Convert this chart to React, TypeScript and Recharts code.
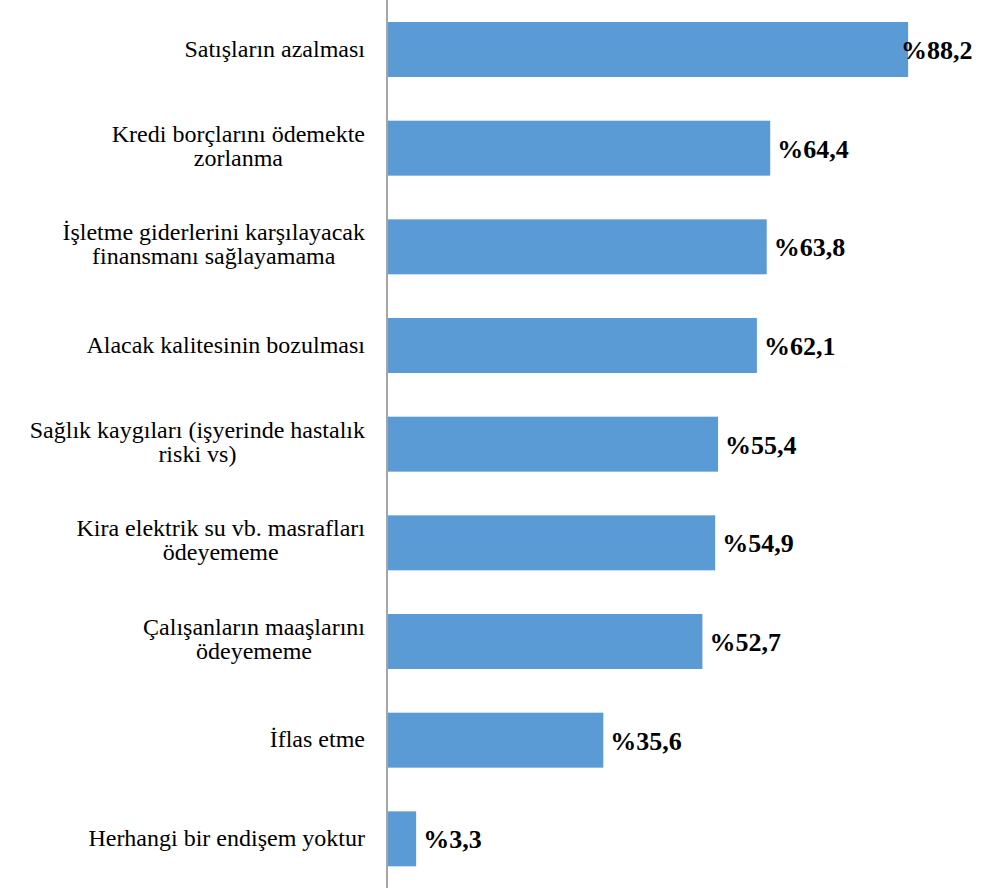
import { BarChart, Bar, XAxis, YAxis, LabelList } from "recharts";

const categories = [
  "Satışların azalması",
  "Kredi borçlarını ödemekte\nzorlanma",
  "İşletme giderlerini karşılayacak\nfinansmanı sağlayamama",
  "Alacak kalitesinin bozulması",
  "Sağlık kaygıları (işyerinde hastalık\nriski vs)",
  "Kira elektrik su vb. masrafları\nödeyememe",
  "Çalışanların maaşlarını\nödeyememe",
  "İflas etme",
  "Herhangi bir endişem yoktur",
];
const values = [88.2, 64.4, 63.8, 62.1, 55.4, 54.9, 52.7, 35.6, 3.3];

const data = categories.map((name, i) => ({ name, value: values[i] }));

const W = 1008;
const H = 888;
const MARGIN = { top: 0, right: 31.5, bottom: 0, left: 0 };
const FAMILY = '"Liberation Serif", "Times New Roman", serif';
const CAT_SIZE = 24;
const VAL_SIZE = 26;
const CAT_FONT = `${CAT_SIZE}px ${FAMILY}`;
const VAL_FONT = `bold ${VAL_SIZE}px ${FAMILY}`;

let ctx: CanvasRenderingContext2D | null = null;
function measure(text: string, font: string) {
  if (!ctx) ctx = document.createElement("canvas").getContext("2d");
  if (!ctx) return text.length * 11;
  ctx.font = font;
  return ctx.measureText(text).width;
}

function CategoryTick(props: any) {
  const { x, y, payload } = props;
  const lines = String(payload.value).split("\n");
  const widest = Math.max(...lines.map((l) => measure(l, CAT_FONT)));
  const cx = x - widest / 2;
  const lh = 24;
  const start = y + (lines.length > 1 ? 5.7 : 7.2) - ((lines.length - 1) * lh) / 2;
  return (
    <text x={cx} y={start} textAnchor="middle" style={{ fontFamily: FAMILY, fontSize: CAT_SIZE }} fill="#000">
      {lines.map((l, i) => (
        <tspan key={i} x={cx} y={start + i * lh}>
          {l}
        </tspan>
      ))}
    </text>
  );
}

function ValueLabel(props: any) {
  const { x, y, width, height, value } = props;
  const text = "%" + Number(value).toFixed(1).replace(".", ",");
  const w = measure(text, VAL_FONT);
  const plotRight = W - MARGIN.right - 4;
  let lx = x + width + 7;
  if (lx + w > plotRight) lx = plotRight - w;
  return (
    <text
      x={lx}
      y={y + height / 2 + 9.5}
      style={{ fontFamily: FAMILY, fontSize: VAL_SIZE, fontWeight: "bold" }}
      fill="#000"
    >
      {text}
    </text>
  );
}

function BarShape(props: any) {
  const { x, y, width, height, fill, background } = props;
  const left = (background && background.x != null ? background.x : x) + 1;
  return <rect x={left} y={y} width={Math.max(0, x + width - left)} height={height} fill={fill} />;
}

export default function App() {
  return (
    <div style={{ position: "absolute", left: 0, top: 0, background: "#fff" }}>
      <BarChart width={W} height={H} data={data} layout="vertical" margin={MARGIN}>
        <XAxis type="number" hide domain={[-1.73, 100]} />
        <YAxis
          type="category"
          dataKey="name"
          width={387}
          interval={0}
          tickLine={false}
          tickSize={0}
          tickMargin={22}
          axisLine={{ stroke: "#A6A6A6", strokeWidth: 2 }}
          tick={(p: any) => <CategoryTick {...p} />}
        />
        <Bar dataKey="value" fill="#5B9BD5" barSize={55} shape={(p: any) => <BarShape {...p} />} isAnimationActive={false}>
          <LabelList dataKey="value" content={(p: any) => <ValueLabel {...p} />} />
        </Bar>
      </BarChart>
    </div>
  );
}
